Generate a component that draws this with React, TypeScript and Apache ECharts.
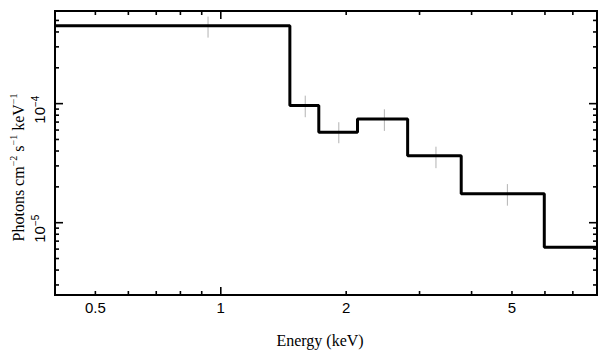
import React, { useEffect, useRef } from "react";
import * as echarts from "echarts";

// Axis ranges (keV, photons cm^-2 s^-1 keV^-1)
const X_MIN = 0.4;
const X_MAX = 8;
const Y_MIN = 2.47e-6;
const Y_MAX = 6e-4;

// Model step (histogram) : bin edges and bin values
const binEdges = [0.4, 1.465, 1.719, 2.129, 2.809, 3.777, 5.978, 8];
const binValues = [4.52e-4, 9.66e-5, 5.75e-5, 7.44e-5, 3.65e-5, 1.75e-5, 6.21e-6];

// Data error bars
const errEnergy = [0.932, 1.595, 1.92, 2.47, 3.285, 4.875];
const errLow = [3.585e-4, 7.69e-5, 4.65e-5, 5.9e-5, 2.87e-5, 1.39e-5];
const errHigh = [5.385e-4, 1.167e-4, 6.98e-5, 8.97e-5, 4.35e-5, 2.11e-5];

// Ticks
const xMajorTicks = [1];
const xMinorTicks = [0.5, 0.6, 0.7, 0.8, 0.9, 2, 3, 4, 5, 6, 7];
const xLabelValues = [0.5, 1, 2, 5];
const xLabelTexts = ["0.5", "1", "2", "5"];
const yMajorTicks = [1e-5, 1e-4];
const yMinorTicks = [
  3e-6, 4e-6, 5e-6, 6e-6, 7e-6, 8e-6, 9e-6,
  2e-5, 3e-5, 4e-5, 5e-5, 6e-5, 7e-5, 8e-5, 9e-5,
  2e-4, 3e-4, 4e-4, 5e-4,
];
const yLabelValues = [1e-5, 1e-4];
const yLabelExponents = ["−5", "−4"];

const SANS = "'Liberation Sans', Arial, Helvetica, sans-serif";
const SERIF = "'Liberation Serif', 'Times New Roman', serif";

export default function App() {
  const ref = useRef<HTMLDivElement>(null);

  useEffect(() => {
    if (!ref.current) return;
    const chart = echarts.init(ref.current, undefined, { renderer: "svg" });

    const stepData: number[][] = binValues.map((v, i) => [binEdges[i], v]);
    stepData.push([binEdges[binEdges.length - 1], binValues[binValues.length - 1]]);

    const errData = errEnergy.map((e, i) => [e, errLow[i], errHigh[i]]);

    const xTickData = [
      ...xMajorTicks.map((v) => [v, Y_MIN, 1]),
      ...xMinorTicks.map((v) => [v, Y_MIN, 0]),
    ];
    const yTickData = [
      ...yMajorTicks.map((v) => [X_MIN, v, 1]),
      ...yMinorTicks.map((v) => [X_MIN, v, 0]),
    ];
    const xLabelData = xLabelValues.map((v) => [v, Y_MIN]);
    const yLabelData = yLabelValues.map((v) => [X_MIN, v]);

    const tickStyle = { stroke: "#000", lineWidth: 1.6 };

    const option: any = {
      animation: false,
      backgroundColor: "#fff",
      grid: {
        left: 55,
        right: 12,
        top: 11,
        bottom: 62,
        show: true,
        borderColor: "#000",
        borderWidth: 2,
        backgroundColor: "transparent",
      },
      xAxis: {
        type: "log",
        logBase: 10,
        min: X_MIN,
        max: X_MAX,
        axisLine: { show: false },
        axisTick: { show: false },
        axisLabel: { show: false },
        splitLine: { show: false },
      },
      yAxis: {
        type: "log",
        logBase: 10,
        min: Y_MIN,
        max: Y_MAX,
        axisLine: { show: false },
        axisTick: { show: false },
        axisLabel: { show: false },
        splitLine: { show: false },
      },
      graphic: [
        {
          type: "text",
          x: 18,
          y: 167.5,
          rotation: Math.PI / 2,
          style: {
            text: "{t|Photons cm}{s|−2}{t| s}{s|−1}{t| keV}{s|−1}",
            align: "center",
            verticalAlign: "middle",
            fill: "#000",
            rich: {
              t: { fontFamily: SERIF, fontSize: 16, lineHeight: 20, fill: "#000" },
              s: { fontFamily: SERIF, fontSize: 10, lineHeight: 12, verticalAlign: "top", fill: "#000" },
            },
          },
        },
        {
          type: "text",
          x: 320,
          y: 340,
          style: {
            text: "Energy (keV)",
            fontFamily: SERIF,
            fontSize: 16,
            align: "center",
            verticalAlign: "middle",
            fill: "#000",
          },
        },
      ],
      series: [
        {
          type: "custom",
          name: "errors",
          z: 2,
          data: errData,
          renderItem: (params: any, api: any) => {
            const p1 = api.coord([api.value(0), api.value(1)]);
            const p2 = api.coord([api.value(0), api.value(2)]);
            return {
              type: "line",
              shape: { x1: p1[0], y1: p1[1], x2: p2[0], y2: p2[1] },
              style: { stroke: "#b3b3b3", lineWidth: 1 },
            };
          },
        },
        {
          type: "line",
          name: "model",
          z: 3,
          data: stepData,
          step: "end",
          symbol: "none",
          lineStyle: { color: "#000", width: 3 },
        },
        {
          type: "custom",
          name: "xticks",
          z: 4,
          data: xTickData,
          renderItem: (params: any, api: any) => {
            const cs = params.coordSys;
            const px = api.coord([api.value(0), Y_MIN])[0];
            const len = api.value(2) ? 8 : 4;
            const bottom = cs.y + cs.height;
            return {
              type: "group",
              children: [
                { type: "line", shape: { x1: px, y1: bottom, x2: px, y2: bottom - len }, style: tickStyle },
                { type: "line", shape: { x1: px, y1: cs.y, x2: px, y2: cs.y + len }, style: tickStyle },
              ],
            };
          },
        },
        {
          type: "custom",
          name: "yticks",
          z: 4,
          data: yTickData,
          renderItem: (params: any, api: any) => {
            const cs = params.coordSys;
            const py = api.coord([X_MIN, api.value(1)])[1];
            const len = api.value(2) ? 8 : 4;
            const right = cs.x + cs.width;
            return {
              type: "group",
              children: [
                { type: "line", shape: { x1: cs.x, y1: py, x2: cs.x + len, y2: py }, style: tickStyle },
                { type: "line", shape: { x1: right, y1: py, x2: right - len, y2: py }, style: tickStyle },
              ],
            };
          },
        },
        {
          type: "custom",
          name: "xlabels",
          z: 4,
          data: xLabelData,
          renderItem: (params: any, api: any) => {
            const cs = params.coordSys;
            const px = api.coord([api.value(0), Y_MIN])[0];
            return {
              type: "text",
              x: px,
              y: cs.y + cs.height + 12,
              style: {
                text: xLabelTexts[params.dataIndex],
                fontFamily: SANS,
                fontSize: 15,
                align: "center",
                verticalAlign: "middle",
                fill: "#000",
              },
            };
          },
        },
        {
          type: "custom",
          name: "ylabels",
          z: 4,
          data: yLabelData,
          renderItem: (params: any, api: any) => {
            const py = api.coord([X_MIN, api.value(1)])[1];
            return {
              type: "text",
              x: 39,
              y: py + 6,
              rotation: Math.PI / 2,
              style: {
                text: "{a|10}{b|" + yLabelExponents[params.dataIndex] + "}",
                align: "center",
                verticalAlign: "middle",
                fill: "#000",
                rich: {
                  a: { fontFamily: SANS, fontSize: 15, lineHeight: 18, fill: "#000" },
                  b: { fontFamily: SANS, fontSize: 10, lineHeight: 11, verticalAlign: "top", fill: "#000" },
                },
              },
            };
          },
        },
      ],
    };

    chart.setOption(option);
    return () => chart.dispose();
  }, []);

  return (
    <div
      ref={ref}
      style={{ position: "absolute", left: 0, top: 0, width: 609, height: 357, background: "#fff" }}
    />
  );
}
